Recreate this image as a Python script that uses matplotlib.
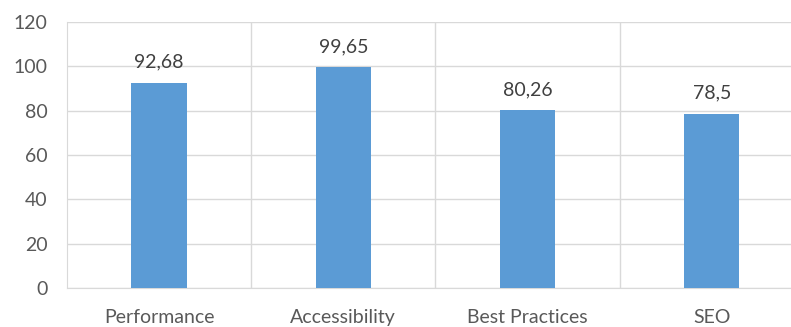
import matplotlib.pyplot as plt
import numpy as np

categorias = ["Performance", "Accessibility", "Best Practices", "SEO"]
valores = [92.68, 99.65, 80.26, 78.5]
rotulos = ["92,68", "99,65", "80,26", "78,5"]
yticks = [0, 20, 40, 60, 80, 100, 120]

azul = "#5B9BD5"
cinza_grade = "#D9D9D9"
cinza_texto = "#595959"

plt.rcParams["font.family"] = ["Lato", "DejaVu Sans"]

fig = plt.figure(figsize=(7.91, 3.27), dpi=100)
# area do grafico passa um pouco da borda direita
ax = fig.add_axes([67 / 791, (327 - 288) / 327, (791 - 67) / 791, (288 - 22) / 327])

x = np.arange(len(categorias))
ax.bar(x, valores, width=0.30, color=azul, zorder=3)

for xi, v, r in zip(x, valores, rotulos):
    ax.text(xi, v + 5.5, r, ha="center", va="bottom", fontsize=14, color="#404040")

ax.set_ylim(0, 120)
ax.set_xlim(-0.5, (791 - 67) / 184.2 - 0.5)
ax.set_yticks(yticks)
ax.set_yticklabels([str(t) for t in yticks], fontsize=14, color=cinza_texto)
ax.set_xticks(x)
ax.set_xticklabels(categorias, fontsize=14, color=cinza_texto)

# linhas verticais separando as categorias
ax.set_xticks(x[:-1] + 0.5, minor=True)
ax.grid(axis="x", which="minor", color=cinza_grade, linewidth=1, zorder=0)
ax.grid(axis="y", which="major", color=cinza_grade, linewidth=1, zorder=0)

ax.tick_params(axis="both", which="both", length=0)
ax.tick_params(axis="y", pad=14)
ax.tick_params(axis="x", pad=15)
for lado in ["top", "right"]:
    ax.spines[lado].set_visible(False)
ax.spines["left"].set_color(cinza_grade)
ax.spines["bottom"].set_color(cinza_grade)

fig.savefig("out.png", dpi=100)
